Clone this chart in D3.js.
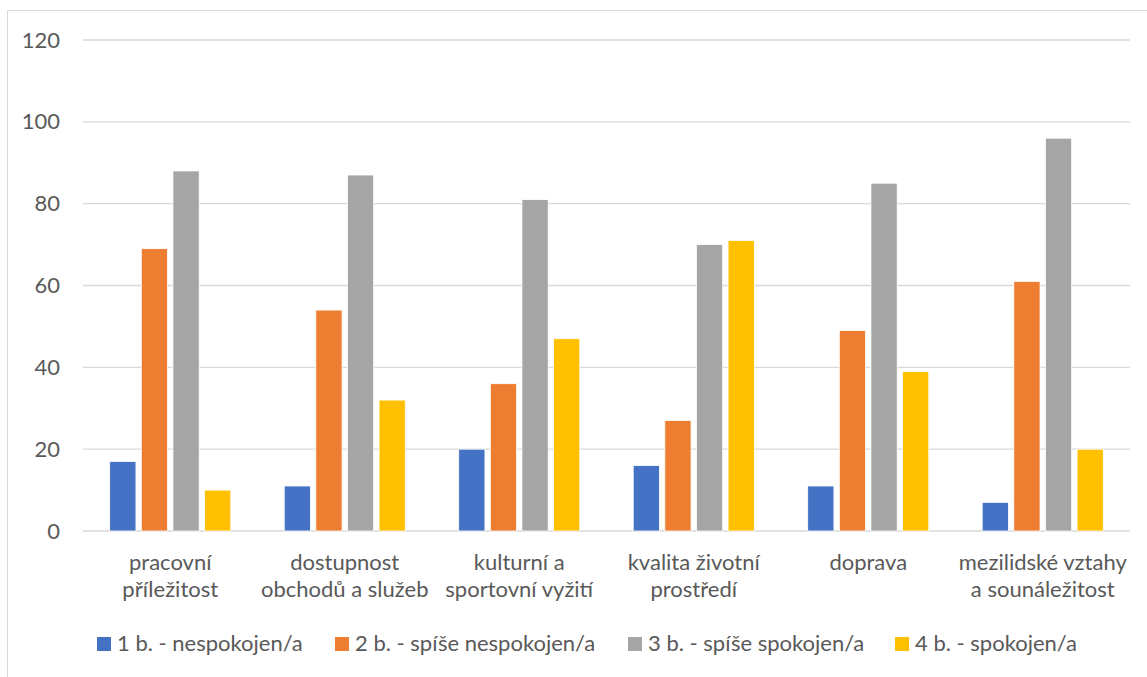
<!DOCTYPE html>
<html lang="cs">
<head>
<meta charset="UTF-8">
<title>Spokojenost</title>
<style>
  body { margin: 0; background: #fff; }
  svg text { font-family: Lato, "Open Sans", sans-serif; fill: #595959; }
</style>
</head>
<body>
<div id="chart"></div>
<script src="https://d3js.org/d3.v7.min.js"></script>
<script>
// data
const categories = [
  ["pracovní", "příležitost"],
  ["dostupnost", "obchodů a služeb"],
  ["kulturní a", "sportovní vyžití"],
  ["kvalita životní", "prostředí"],
  ["doprava"],
  ["mezilidské vztahy", "a sounáležitost"]
];
const seriesNames = [
  "1 b. - nespokojen/a",
  "2 b. - spíše nespokojen/a",
  "3 b. - spíše spokojen/a",
  "4 b. - spokojen/a"
];
const nespokojen = [17, 11, 20, 16, 11, 7];
const spiseNespokojen = [69, 54, 36, 27, 49, 61];
const spiseSpokojen = [88, 87, 81, 70, 85, 96];
const spokojen = [10, 32, 47, 71, 39, 20];
const yTicks = [0, 20, 40, 60, 80, 100, 120];

const colors = ["#4472C4", "#ED7D31", "#A5A5A5", "#FFC000"];
const series = [nespokojen, spiseNespokojen, spiseSpokojen, spokojen];

const W = 1147, H = 677;
const margin = { top: 40, right: 17, bottom: 146, left: 83 };
const width = W - margin.left - margin.right;
const height = H - margin.top - margin.bottom;
const fontSize = "22px";

const svg = d3.select("#chart").append("svg")
  .attr("width", W).attr("height", H);

// outer frame of the chart area
svg.append("rect")
  .attr("x", 7.5).attr("y", 10.5)
  .attr("width", W).attr("height", H)
  .attr("fill", "none").attr("stroke", "#d9d9d9").attr("stroke-width", 1);

const g = svg.append("g").attr("transform", `translate(${margin.left},${margin.top})`);

const x0 = d3.scaleBand().domain(d3.range(categories.length)).range([0, width]);
const x1 = d3.scaleBand().domain(d3.range(series.length))
  .range([x0.bandwidth() * 0.153, x0.bandwidth() * 0.847]).paddingInner(0.17);
const y = d3.scaleLinear().domain([0, 120]).range([height, 0]);

// gridlines
g.selectAll(".grid").data(yTicks).enter().append("line")
  .attr("x1", 0).attr("x2", width)
  .attr("y1", d => y(d)).attr("y2", d => y(d))
  .attr("stroke", "#d9d9d9").attr("stroke-width", 1.3);

// y tick labels
const yAxis = g.append("g").call(d3.axisLeft(y).tickValues(yTicks).tickSize(0).tickPadding(23));
yAxis.select(".domain").remove();
yAxis.selectAll("text").style("font-size", fontSize).attr("fill", "#595959")
  .style("font-family", "Lato, sans-serif");

// bars
series.forEach((vals, si) => {
  g.selectAll(".bar" + si).data(vals).enter().append("rect")
    .attr("x", (d, i) => x0(i) + x1(si))
    .attr("width", x1.bandwidth())
    .attr("y", d => y(d))
    .attr("height", d => y(0) - y(d))
    .attr("fill", colors[si])
    .attr("stroke", "#fff").attr("stroke-width", 0.8);
});

// category labels
const xAxis = g.append("g").attr("transform", `translate(0,${height})`);
categories.forEach((lines, i) => {
  const cx = x0(i) + x0.bandwidth() / 2;
  const t = xAxis.append("text")
    .attr("x", cx)
    .attr("y", 39)
    .attr("text-anchor", "middle")
    .style("font-size", fontSize);
  lines.forEach((ln, k) => {
    t.append("tspan").attr("x", cx)
      .attr("dy", k === 0 ? 0 : 27).text(ln);
  });
});

// legend
const legendX = [97, 335, 628, 895];
const legend = svg.append("g").attr("transform", "translate(0,644)");
seriesNames.forEach((name, i) => {
  legend.append("rect").attr("x", legendX[i]).attr("y", -7)
    .attr("width", 14).attr("height", 14).attr("fill", colors[i]);
  legend.append("text").attr("x", legendX[i] + 20).attr("y", 7)
    .style("font-size", fontSize).text(name);
});
</script>
</body>
</html>
